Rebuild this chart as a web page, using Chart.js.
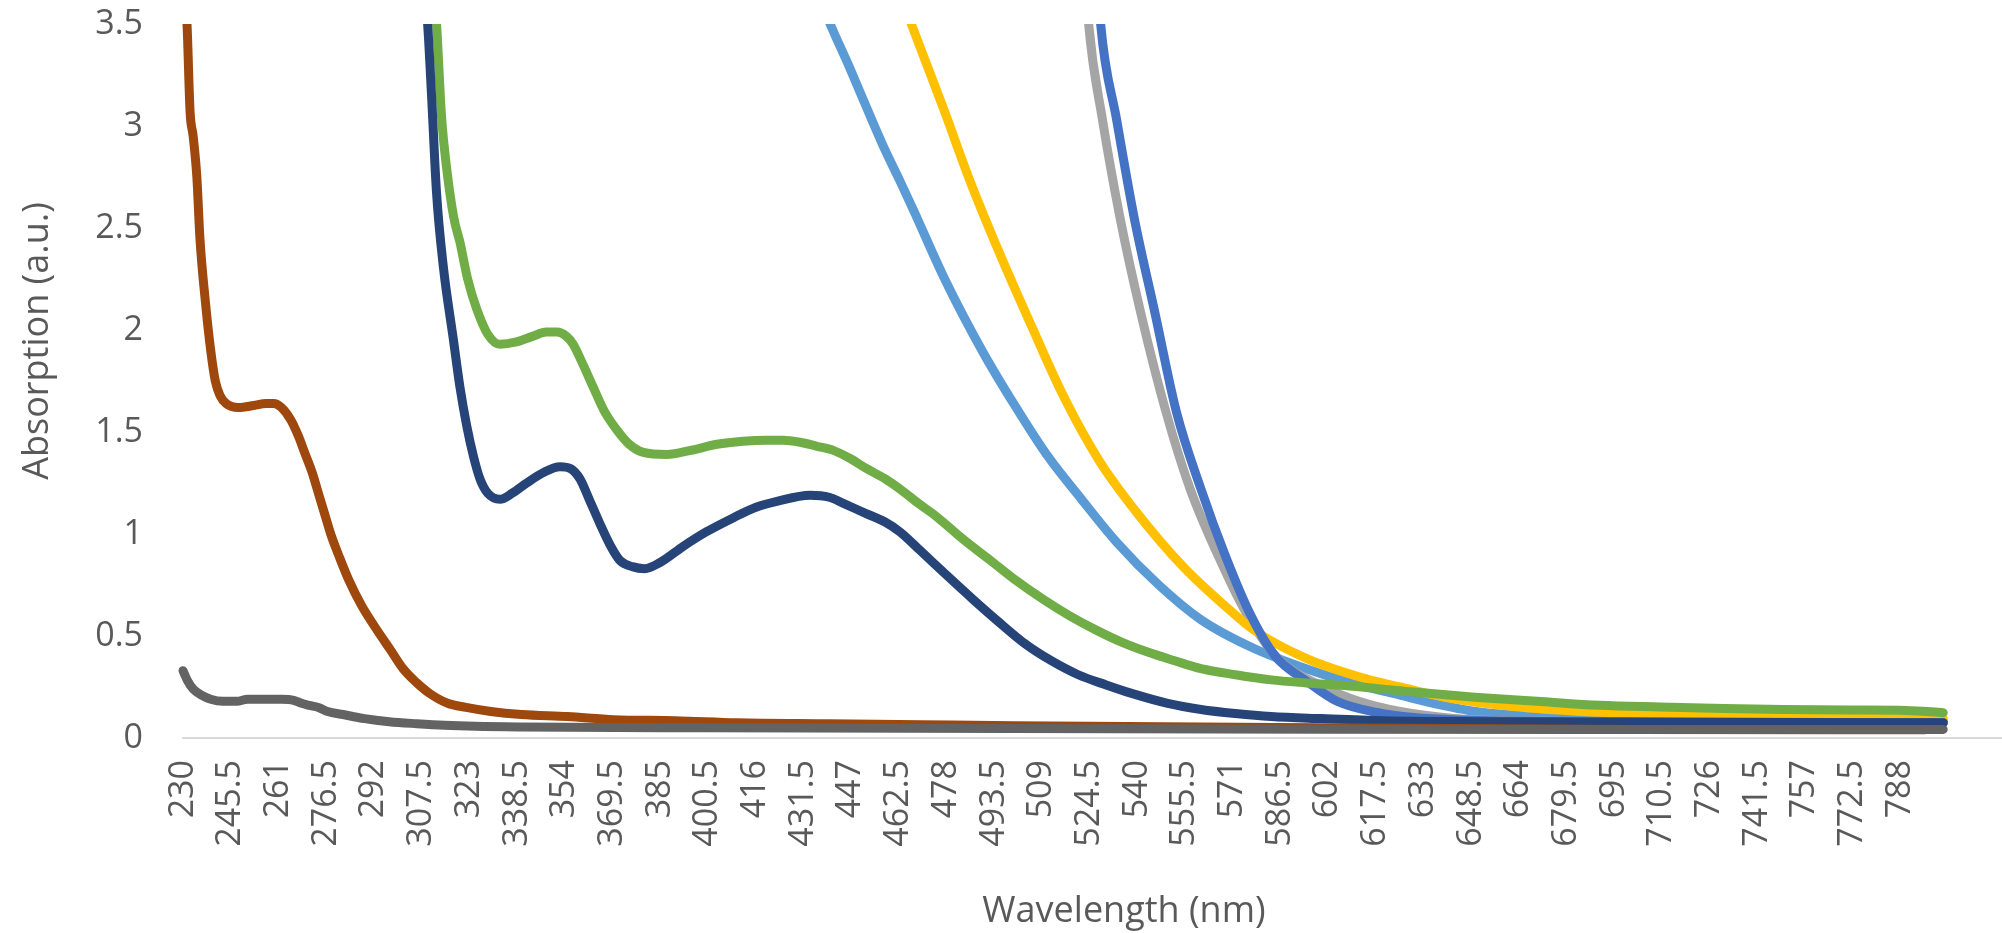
<!doctype html>
<html lang="en">

<head>
  <meta charset="UTF-8" />
  <title>Absorption spectra</title>
  <script src="https://cdn.jsdelivr.net/npm/chart.js@4.4.1/dist/chart.umd.min.js"></script>
  <style>
    html, body { margin: 0; padding: 0; background: #fff; }
    #wrap { width: 2002px; height: 933px; }
  </style>
</head>

<body>
  <div id="wrap">
    <canvas id="spectra" width="2002" height="933"></canvas>
  </div>
  <script>
    // x axis labels (category labels of the original sheet)
    const xTicks = [230, 245.5, 261, 276.5, 292, 307.5, 323, 338.5, 354, 369.5, 385, 400.5, 416, 431.5, 447,
      462.5, 478, 493.5, 509, 524.5, 540, 555.5, 571, 586.5, 602, 617.5, 633, 648.5, 664, 679.5, 695,
      710.5, 726, 741.5, 757, 772.5, 788];
    const yTicks = [0, 0.5, 1, 1.5, 2, 2.5, 3, 3.5];

    // series values (wavelength nm / absorption a.u.)
    const wlDarkGray = [230, 231.5, 233.3, 236, 239, 243, 247.5, 251, 256, 262, 266, 268.5, 271, 274, 277, 282, 289, 297, 306, 315, 325, 340, 400, 500, 600, 700, 802];
    const absDarkGray = [0.33, 0.28, 0.24, 0.21, 0.19, 0.18, 0.18, 0.19, 0.19, 0.19, 0.185, 0.17, 0.16, 0.15, 0.13, 0.115, 0.095, 0.08, 0.07, 0.062, 0.057, 0.054, 0.05, 0.046, 0.043, 0.042, 0.042];

    const wlBrown = [230, 231.3, 232.3, 233.3, 234.5, 235.5, 237.2, 239, 240.5, 242, 244, 248, 253, 257, 259.5, 262, 265, 267.5, 269.5, 272, 274, 276, 278, 281, 284, 288, 293, 297.5, 301.5, 306, 310, 316, 322, 330, 340, 355, 370, 390, 410, 440, 470, 500, 600, 700, 796];
    const absBrown = [3.75, 3.5, 3.07, 2.95, 2.75, 2.45, 2.15, 1.9, 1.75, 1.68, 1.64, 1.62, 1.63, 1.64, 1.64, 1.62, 1.56, 1.48, 1.4, 1.3, 1.2, 1.1, 1.0, 0.88, 0.77, 0.65, 0.53, 0.43, 0.34, 0.27, 0.22, 0.17, 0.15, 0.13, 0.115, 0.105, 0.09, 0.085, 0.075, 0.07, 0.065, 0.06, 0.05, 0.042, 0.04];

    const wlNavy = [305, 309.5, 310.8, 312.4, 314.6, 317.8, 320, 322.2, 324.4, 326.5, 329, 333, 337, 341.7, 347, 352.5, 356, 359, 362, 365.5, 369, 372, 376, 380, 385, 392.6, 400, 408.9, 416, 423, 433.8, 440, 444.6, 452, 458, 463, 469.5, 478, 486.7, 495, 503.8, 512, 520.9, 530, 538, 550, 560.8, 572, 583.6, 600, 620, 650, 700, 750, 802];
    const absNavy = [4.3, 3.5, 3.14, 2.67, 2.31, 1.96, 1.72, 1.53, 1.38, 1.27, 1.2, 1.17, 1.2, 1.25, 1.3, 1.33, 1.32, 1.27, 1.17, 1.05, 0.94, 0.87, 0.84, 0.83, 0.86, 0.94, 1.01, 1.08, 1.13, 1.16, 1.19, 1.18, 1.15, 1.1, 1.06, 1.01, 0.92, 0.8, 0.68, 0.57, 0.46, 0.38, 0.31, 0.26, 0.22, 0.17, 0.14, 0.12, 0.105, 0.095, 0.085, 0.08, 0.078, 0.076, 0.075];

    const wlGreen = [308, 312.4, 314, 315.7, 318, 320, 322.5, 325.5, 329, 333, 338, 343.8, 348, 351.5, 354.5, 356.8, 360, 363.3, 367, 371, 375, 379.6, 387.2, 395, 403.5, 412, 419.7, 425, 430.5, 436, 441.3, 446.8, 452.2, 458.2, 463, 469, 475.3, 483, 492.4, 500, 509.5, 518, 526.6, 535, 543.7, 552, 560.8, 572, 583.6, 595, 609, 630, 649.8, 670, 690.4, 710, 730.9, 750, 771.5, 790, 802];
    const absGreen = [4.3, 3.5, 3.05, 2.79, 2.55, 2.43, 2.25, 2.1, 1.98, 1.93, 1.94, 1.97, 1.99, 1.99, 1.97, 1.93, 1.83, 1.72, 1.6, 1.51, 1.44, 1.4, 1.39, 1.41, 1.44, 1.455, 1.46, 1.46, 1.45, 1.43, 1.41, 1.37, 1.32, 1.27, 1.22, 1.15, 1.08, 0.98, 0.87, 0.78, 0.68, 0.6, 0.53, 0.47, 0.42, 0.38, 0.34, 0.31, 0.285, 0.27, 0.255, 0.225, 0.2, 0.18, 0.16, 0.152, 0.145, 0.14, 0.137, 0.135, 0.124];

    const wlLightBlue = [435, 440.3, 446.8, 451.3, 458.2, 463, 467.3, 477.5, 490, 500.3, 510.6, 522, 533.4, 547.1, 560.8, 577.9, 595, 612.1, 625.5, 636.3, 650, 663.2, 680, 703.9, 750, 802];
    const absLightBlue = [3.7, 3.5, 3.28, 3.12, 2.88, 2.73, 2.59, 2.25, 1.89, 1.63, 1.39, 1.17, 0.96, 0.75, 0.58, 0.44, 0.34, 0.26, 0.21, 0.17, 0.13, 0.112, 0.103, 0.098, 0.09, 0.085];

    const wlYellow = [462, 466.7, 470.7, 477.5, 485.5, 495.8, 506, 516.3, 527.7, 540.2, 555, 569.9, 577.9, 595, 612.1, 625.5, 640, 663.2, 685, 703.9, 750, 802];
    const absYellow = [3.7, 3.5, 3.34, 3.07, 2.74, 2.36, 2.01, 1.67, 1.36, 1.1, 0.84, 0.63, 0.53, 0.39, 0.3, 0.25, 0.2, 0.153, 0.13, 0.12, 0.1, 0.095];

    const wlGray = [520, 524.3, 528.8, 534.5, 541.3, 549.4, 557.3, 566.5, 575.6, 585.8, 600.7, 612.1, 625.5, 643.1, 660, 700, 802];
    const absGray = [4.5, 3.5, 3.03, 2.55, 2.08, 1.6, 1.22, 0.89, 0.61, 0.39, 0.25, 0.18, 0.13, 0.096, 0.085, 0.08, 0.075];

    const wlBlue = [524, 528.2, 533.4, 539.1, 545.9, 552.8, 560.8, 568.8, 576.7, 585, 595, 605, 618, 630, 645, 680, 802];
    const absBlue = [4.5, 3.5, 3.03, 2.55, 2.08, 1.6, 1.22, 0.89, 0.61, 0.4, 0.28, 0.18, 0.125, 0.1, 0.088, 0.08, 0.075];

    const textColor = '#595959';
    const tickFont = { family: 'Open Sans', size: 34 };
    const titleFont = '36px "Open Sans"';

    function toPoints(wl, abs) {
      return wl.map(function (x, i) { return { x: x, y: abs[i] }; });
    }

    function line(wl, abs, color) {
      return {
        data: toPoints(wl, abs),
        borderColor: color,
        backgroundColor: color,
        borderWidth: 9,
        pointRadius: 0,
        cubicInterpolationMode: 'monotone',
        borderJoinStyle: 'round',
        borderCapStyle: 'round',
        clip: { left: 10, top: 0, right: 0, bottom: 10 },
      };
    }

    // first dataset is painted on top in chart.js, so the list runs from the top series down
    const datasets = [
      line(wlDarkGray, absDarkGray, '#636363'),
      line(wlBrown, absBrown, '#9E480E'),
      line(wlNavy, absNavy, '#264478'),
      line(wlGreen, absGreen, '#70AD47'),
      line(wlBlue, absBlue, '#4472C4'),
      line(wlYellow, absYellow, '#FFC000'),
      line(wlGray, absGray, '#A5A5A5'),
      line(wlLightBlue, absLightBlue, '#5B9BD5'),
    ];

    // axis titles sit off-centre in the original, so they are drawn here
    const axisTitles = {
      id: 'axisTitles',
      afterDraw: function (chart) {
        const ctx = chart.ctx;
        ctx.save();
        ctx.font = titleFont;
        ctx.fillStyle = textColor;
        ctx.textAlign = 'center';
        ctx.textBaseline = 'middle';
        ctx.fillText('Wavelength (nm)', 1124, 912);
        ctx.translate(38, 341);
        ctx.rotate(-Math.PI / 2);
        ctx.fillText('Absorption (a.u.)', 0, 0);
        ctx.restore();
      }
    };

    const chart = new Chart(document.getElementById('spectra').getContext('2d'), {
      type: 'line',
      data: { datasets: datasets },
      plugins: [axisTitles],
      options: {
        responsive: false,
        animation: false,
        events: [],
        layout: {
          padding: { top: 24, right: 0, left: 0, bottom: 0 }
        },
        plugins: {
          legend: { display: false },
          tooltip: { enabled: false },
        },
        scales: {
          x: {
            type: 'linear',
            min: 230,
            max: 821.1,
            grid: { display: false, drawTicks: false },
            border: { display: true, color: '#D9D9D9', width: 2 },
            afterBuildTicks: function (scale) {
              scale.ticks = xTicks.map(function (v) { return { value: v }; });
            },
            afterFit: function (scale) {
              scale.height = 195;
              scale.paddingRight = 0;
            },
            ticks: {
              autoSkip: false,
              minRotation: 90,
              maxRotation: 90,
              padding: 22,
              color: textColor,
              font: tickFont,
              callback: function (v) { return String(v); },
            },
          },
          y: {
            min: 0,
            max: 3.5,
            grid: { display: false, drawTicks: false },
            border: { display: false },
            afterBuildTicks: function (scale) {
              scale.ticks = yTicks.map(function (v) { return { value: v }; });
            },
            afterFit: function (scale) {
              scale.width = 183;
              scale.paddingTop = 0;
              scale.paddingBottom = 0;
            },
            ticks: {
              padding: 40,
              color: textColor,
              font: tickFont,
              callback: function (v) { return String(v); },
            },
          },
        },
      },
    });
  </script>
</body>

</html>
